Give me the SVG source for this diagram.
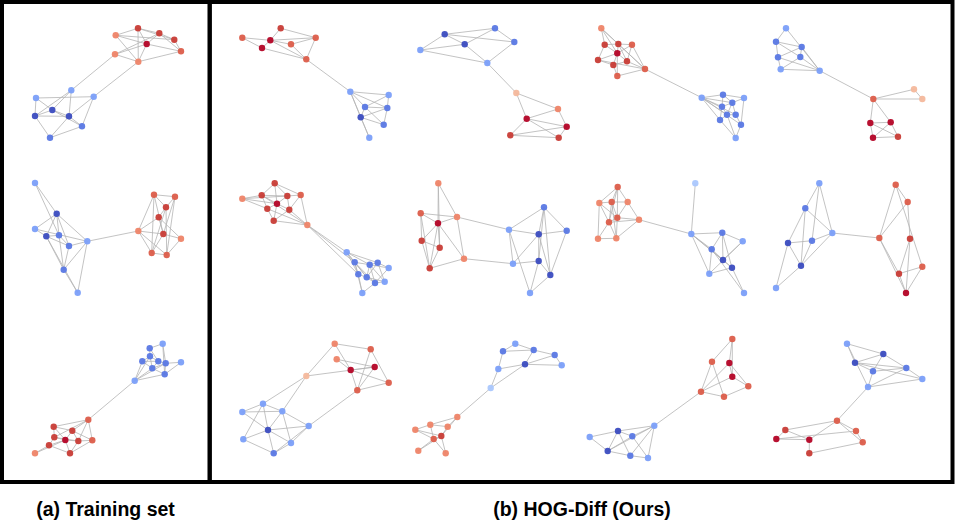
<svg xmlns="http://www.w3.org/2000/svg" width="957" height="532" viewBox="0 0 957 532">
<style>
.e{fill:none;stroke:#b4b4b4;stroke-width:0.8}
circle{r:3.2px;fill-opacity:0.95}
.D{fill:#3b4cc0}.M{fill:#5a78e4}.L{fill:#7b9ff9}.V{fill:#aac7fd}
.P{fill:#f4b89c}.O{fill:#ee8468}.R{fill:#dc5d4a}.S{fill:#c83c36}.K{fill:#b40426}
.frame{fill:none;stroke:#000;stroke-width:4}
.cap{font-family:"Liberation Sans",Arial,sans-serif;font-weight:bold;font-size:19.5px;fill:#000}
</style>
<rect width="957" height="532" fill="#fff"/>
<g id="frames">
<rect class="frame" x="2" y="2" width="207.7" height="480"/>
<rect class="frame" x="209.7" y="2" width="742.8" height="480"/>
</g>
<g id="connectors">
<path class="e" d="M115 54.3L71.3 90.3M138.3 61.7L93.7 96.7M115.7 35.3L138 28.3M138 28.3L159.3 33.3M159.3 33.3L174.3 39.7M174.3 39.7L181 51.3M115.7 35.3L146.7 44M138 28.3L146.7 44M138 28.3L138.3 61.7M159.3 33.3L146.7 44M146.7 44L181 51.3M146.7 44L115 54.3M115 54.3L138.3 61.7M138.3 61.7L181 51.3M115 54.3L159.3 33.3M138 28.3L174.3 39.7M138.3 61.7L146.7 44M159.3 33.3L181 51.3M115.7 35.3L138.3 61.7M115.7 35.3L174.3 39.7M36 98L93.7 96.7M71.3 90.3L52.3 110M71.3 90.3L69 116.3M71.3 90.3L35 116M36 98L35 116M36 98L52.3 110M52.3 110L69 116.3M35 116L69 116.3M35 116L52.3 110M35 116L50 137.7M50 137.7L69 116.3M50 137.7L82 126.3M69 116.3L82 126.3M93.7 96.7L82 126.3M93.7 96.7L69 116.3M52.3 110L82 126.3"/>
<path class="e" d="M87.3 241.3L138.3 231M35 183L56.7 213.7M35 183L59 235.3M56.7 213.7L35 229M56.7 213.7L46.3 236.3M56.7 213.7L59 235.3M56.7 213.7L69 246M56.7 213.7L87.3 241.3M35 229L46.3 236.3M35 229L87.3 241.3M46.3 236.3L59 235.3M46.3 236.3L69 246M46.3 236.3L63.7 269.7M59 235.3L69 246M59 235.3L63.7 269.7M69 246L63.7 269.7M69 246L87.3 241.3M87.3 241.3L77.7 292.7M63.7 269.7L77.7 292.7M87.3 241.3L63.7 269.7M46.3 236.3L77.7 292.7M138.3 231L154 194.7M138.3 231L158.7 217.3M138.3 231L163.3 234M138.3 231L151.7 253M138.3 231L166.7 255M154 194.7L175 196.7M154 194.7L166 207.3M154 194.7L151.7 253M175 196.7L166 207.3M175 196.7L163.3 234M166 207.3L158.7 217.3M166 207.3L166.7 255M158.7 217.3L181 238.7M158.7 217.3L163.3 234M163.3 234L181 238.7M163.3 234L151.7 253M181 238.7L166.7 255M151.7 253L166.7 255M154 194.7L163.3 234M175 196.7L166.7 255M166 207.3L151.7 253"/>
<path class="e" d="M134.7 380.7L88.3 419.7M134.7 380.7L142.3 361.3M134.7 380.7L152.3 368.3M134.7 380.7L164.7 374.3M134.7 380.7L150 356.3M134.7 380.7L165.7 363.3M149.7 348.3L162.7 343.7M149.7 348.3L150 356.3M149.7 348.3L158.3 361.3M162.7 343.7L165.7 363.3M162.7 343.7L164.7 374.3M150 356.3L142.3 361.3M150 356.3L158.3 361.3M150 356.3L152.3 368.3M142.3 361.3L158.3 361.3M142.3 361.3L152.3 368.3M158.3 361.3L165.7 363.3M158.3 361.3L152.3 368.3M165.7 363.3L181 362.3M165.7 363.3L164.7 374.3M181 362.3L164.7 374.3M152.3 368.3L164.7 374.3M152.3 368.3L165.7 363.3M88.3 419.7L53.7 426.7M88.3 419.7L72.3 430.7M88.3 419.7L54.3 437.3M88.3 419.7L78.3 441M88.3 419.7L92.3 440.3M53.7 426.7L72.3 430.7M53.7 426.7L54.3 437.3M53.7 426.7L65.3 440M72.3 430.7L65.3 440M72.3 430.7L78.3 441M54.3 437.3L65.3 440M54.3 437.3L49 445.3M65.3 440L78.3 441M65.3 440L49 445.3M65.3 440L70 453.3M78.3 441L92.3 440.3M78.3 441L70 453.3M92.3 440.3L70 453.3M49 445.3L35 453.3M49 445.3L70 453.3M35 453.3L65.3 440M54.3 437.3L78.3 441M72.3 430.7L92.3 440.3"/>
<path class="e" d="M306.3 59.3L350.3 91.7M242.3 37.7L270.3 40.3M242.3 37.7L262 48M280.7 28.3L270.3 40.3M280.7 28.3L315.7 37.7M270.3 40.3L262 48M270.3 40.3L291 44.3M270.3 40.3L306.3 59.3M262 48L306.3 59.3M291 44.3L315.7 37.7M291 44.3L306.3 59.3M315.7 37.7L306.3 59.3M270.3 40.3L315.7 37.7M350.3 91.7L388.7 95M350.3 91.7L365 107M350.3 91.7L387.3 108M350.3 91.7L360.7 117.3M350.3 91.7L369.3 137.7M388.7 95L365 107M388.7 95L387.3 108M365 107L387.3 108M365 107L360.7 117.3M365 107L383.7 124.7M387.3 108L360.7 117.3M387.3 108L383.7 124.7M360.7 117.3L383.7 124.7M360.7 117.3L369.3 137.7"/>
<path class="e" d="M487.3 63L516.3 93M444.7 34.3L495 28.3M444.7 34.3L464.7 44.3M444.7 34.3L420.3 50M444.7 34.3L514.3 42M495 28.3L464.7 44.3M495 28.3L514.3 42M464.7 44.3L487.3 63M514.3 42L487.3 63M420.3 50L464.7 44.3M420.3 50L487.3 63M516.3 93L558 109M516.3 93L526.7 118.7M558 109L526.7 118.7M558 109L566.7 126.7M526.7 118.7L566.7 126.7M526.7 118.7L510.3 135.3M526.7 118.7L558.7 137.7M566.7 126.7L510.3 135.3M566.7 126.7L558.7 137.7M510.3 135.3L558.7 137.7"/>
<path class="e" d="M645 69L701.7 97.7M601.3 28.3L604.7 44.7M601.3 28.3L618.3 44M601.3 28.3L617.3 53.3M601.3 28.3L645 69M604.7 44.7L618.3 44M604.7 44.7L617.3 53.3M604.7 44.7L598 60M618.3 44L632 44.7M618.3 44L617.3 53.3M618.3 44L627 61.3M632 44.7L617.3 53.3M632 44.7L645 69M617.3 53.3L598 60M617.3 53.3L627 61.3M617.3 53.3L613.3 65M617.3 53.3L617.3 76M598 60L613.3 65M598 60L645 69M627 61.3L645 69M627 61.3L613.3 65M613.3 65L617.3 76M617.3 76L645 69M632 44.7L627 61.3M618.3 44L645 69M701.7 97.7L723 94.7M701.7 97.7L722 106.7M701.7 97.7L732.3 102.7M701.7 97.7L727 114.7M701.7 97.7L735.7 114.7M701.7 97.7L720 120M701.7 97.7L741 124.7M723 94.7L744 98M723 94.7L732.3 102.7M723 94.7L722 106.7M744 98L732.3 102.7M744 98L741 124.7M722 106.7L732.3 102.7M722 106.7L727 114.7M722 106.7L720 120M732.3 102.7L735.7 114.7M727 114.7L735.7 114.7M727 114.7L720 120M735.7 114.7L741 124.7M720 120L735.7 138M741 124.7L735.7 138M727 114.7L735.7 138M732.3 102.7L727 114.7"/>
<path class="e" d="M819.7 70.7L873.3 99M786 28.3L776 41.7M786 28.3L819.7 70.7M776 41.7L801.7 47M776 41.7L778 57.3M776 41.7L800.3 57M801.7 47L778 57.3M801.7 47L800.3 57M801.7 47L819.7 70.7M778 57.3L780.7 69.3M778 57.3L819.7 70.7M800.3 57L780.7 69.3M800.3 57L819.7 70.7M780.7 69.3L819.7 70.7M873.3 99L914 89.3M873.3 99L922.3 99M914 89.3L922.3 99M873.3 99L870.3 123M873.3 99L890.7 122.3M870.3 123L890.7 122.3M870.3 123L873 137.7M890.7 122.3L873 137.7M890.7 122.3L898 136.7M873 137.7L898 136.7M870.3 123L898 136.7"/>
<path class="e" d="M307.3 225L346.7 252.3M307.3 225L354.7 262.3M307.3 225L358.3 274.3M242.3 198.7L261.7 195.3M242.3 198.7L277 203.7M242.3 198.7L287.3 196M242.3 198.7L267.3 208.7M274.7 183.3L261.7 195.3M274.7 183.3L287.3 196M274.7 183.3L277 203.7M274.7 183.3L300.7 195M261.7 195.3L287.3 196M261.7 195.3L277 203.7M261.7 195.3L267.3 208.7M287.3 196L300.7 195M287.3 196L277 203.7M287.3 196L289.3 209.7M300.7 195L289.3 209.7M300.7 195L307.3 225M277 203.7L267.3 208.7M277 203.7L289.3 209.7M277 203.7L273.7 220.7M267.3 208.7L273.7 220.7M267.3 208.7L307.3 225M289.3 209.7L307.3 225M273.7 220.7L307.3 225M273.7 220.7L289.3 209.7M261.7 195.3L307.3 225M346.7 252.3L354.7 262.3M346.7 252.3L369.7 264.7M346.7 252.3L377.7 262.7M346.7 252.3L358.3 274.3M346.7 252.3L366.7 277.3M354.7 262.3L369.7 264.7M354.7 262.3L358.3 274.3M354.7 262.3L366.7 277.3M354.7 262.3L375 283M369.7 264.7L377.7 262.7M369.7 264.7L388.7 268M369.7 264.7L366.7 277.3M369.7 264.7L375 283M377.7 262.7L388.7 268M377.7 262.7L384.7 281.7M377.7 262.7L366.7 277.3M388.7 268L375 283M358.3 274.3L366.7 277.3M358.3 274.3L362.3 293M366.7 277.3L375 283M366.7 277.3L384.7 281.7M375 283L384.7 281.7M375 283L362.3 293M354.7 262.3L362.3 293M369.7 264.7L384.7 281.7"/>
<path class="e" d="M457 217L509 229.7M464 258.7L513 263.7M438.3 183.3L438 223.3M438.3 183.3L457 217M438.3 183.3L439.7 247.7M420.7 213.3L438 223.3M420.7 213.3L457 217M420.7 213.3L421.7 240.7M420.7 213.3L429.7 268.3M438 223.3L457 217M438 223.3L421.7 240.7M438 223.3L439.7 247.7M438 223.3L464 258.7M457 217L464 258.7M421.7 240.7L439.7 247.7M421.7 240.7L429.7 268.3M439.7 247.7L429.7 268.3M464 258.7L429.7 268.3M438 223.3L429.7 268.3M544 207.3L509 229.7M544 207.3L566.7 230.7M544 207.3L538.7 234.3M544 207.3L538.7 261M509 229.7L538.7 234.3M509 229.7L513 263.7M509 229.7L530 293M566.7 230.7L538.7 234.3M566.7 230.7L550.3 275M538.7 234.3L513 263.7M538.7 234.3L538.7 261M538.7 234.3L550.3 275M513 263.7L538.7 261M538.7 261L550.3 275M538.7 261L530 293M550.3 275L530 293M544 207.3L550.3 275"/>
<path class="e" d="M639 219.7L691.3 234M695.3 183.3L691.3 234M617.7 187L599.3 203M617.7 187L611.7 202M617.7 187L627.7 202M617.7 187L609 222.3M617.7 187L617.3 217.7M599.3 203L611.7 202M599.3 203L609 222.3M599.3 203L617.3 217.7M599.3 203L598 238.7M611.7 202L627.7 202M611.7 202L609 222.3M611.7 202L617.3 217.7M611.7 202L616.3 238.3M627.7 202L617.3 217.7M627.7 202L639 219.7M609 222.3L617.3 217.7M609 222.3L639 219.7M609 222.3L598 238.7M609 222.3L616.3 238.3M617.3 217.7L639 219.7M617.3 217.7L616.3 238.3M598 238.7L616.3 238.3M616.3 238.3L639 219.7M691.3 234L722.3 232.7M691.3 234L711.7 249.3M691.3 234L723 260M691.3 234L732 267.7M691.3 234L709.3 273.7M722.3 232.7L742.7 241.3M722.3 232.7L711.7 249.3M722.3 232.7L723 260M722.3 232.7L732 267.7M742.7 241.3L723 260M742.7 241.3L709.3 273.7M711.7 249.3L723 260M711.7 249.3L709.3 273.7M723 260L732 267.7M732 267.7L709.3 273.7M732 267.7L744 293M711.7 249.3L744 293"/>
<path class="e" d="M832.3 233L879.3 238M819.3 183.3L805.3 208.3M819.3 183.3L832.3 233M819.3 183.3L812 240.7M805.3 208.3L832.3 233M805.3 208.3L788 243M805.3 208.3L801 265.7M832.3 233L812 240.7M832.3 233L801 265.7M788 243L812 240.7M788 243L801 265.7M788 243L776 288M812 240.7L801 265.7M801 265.7L776 288M895.7 184.7L907.7 202M895.7 184.7L879.3 238M895.7 184.7L922.3 266.7M907.7 202L879.3 238M907.7 202L910 238.7M879.3 238L899 273.7M879.3 238L906 293M910 238.7L899 273.7M910 238.7L906 293M922.3 266.7L899 273.7M922.3 266.7L906 293M899 273.7L906 293"/>
<path class="e" d="M306.3 376L263 403.7M306.3 376L282.3 411.3M357.3 390.3L308.7 426M334.7 343.7L370.7 349.3M334.7 343.7L306.3 376M334.7 343.7L350.7 370M370.7 349.3L357.3 390.3M370.7 349.3L388.7 382.7M336.7 359.3L374.7 367M306.3 376L374.7 367M350.7 370L374.7 367M350.7 370L357.3 390.3M350.7 370L388.7 382.7M374.7 367L357.3 390.3M388.7 382.7L357.3 390.3M336.7 359.3L350.7 370M263 403.7L242.3 412M263 403.7L282.3 411.3M263 403.7L268 430M263 403.7L243.3 439.3M242.3 412L282.3 411.3M282.3 411.3L268 430M282.3 411.3L291 443M268 430L308.7 426M268 430L243.3 439.3M268 430L291 443M268 430L273.7 453.3M308.7 426L291 443M308.7 426L273.7 453.3M243.3 439.3L273.7 453.3M291 443L273.7 453.3M282.3 411.3L308.7 426M242.3 412L268 430"/>
<path class="e" d="M490.7 388L457.3 417M515.3 343.7L503 351.3M515.3 343.7L533.7 350M503 351.3L533.7 350M503 351.3L498.3 369M533.7 350L554.7 355M533.7 350L525 364.3M554.7 355L525 364.3M554.7 355L561.7 365.3M525 364.3L498.3 369M525 364.3L561.7 365.3M525 364.3L490.7 388M498.3 369L490.7 388M457.3 417L430.3 424.7M457.3 417L447.7 426.7M457.3 417L441.3 436M430.3 424.7L415.3 429.7M430.3 424.7L447.7 426.7M430.3 424.7L433.7 439M447.7 426.7L441.3 436M415.3 429.7L441.3 436M415.3 429.7L433.7 439M433.7 439L441.3 436M433.7 439L418.3 450.7M441.3 436L445.7 453.3M441.3 436L418.3 450.7M433.7 439L445.7 453.3"/>
<path class="e" d="M701 391.7L654.3 425.7M732.3 339L712 361.7M732.3 339L729.3 363M732.3 339L732.3 376.7M712 361.7L701 391.7M712 361.7L724 396.7M729.3 363L732.3 376.7M729.3 363L748.3 386.3M729.3 363L701 391.7M732.3 376.7L748.3 386.3M732.3 376.7L701 391.7M748.3 386.3L724 396.7M701 391.7L724 396.7M654.3 425.7L618 431M654.3 425.7L632.3 436.3M654.3 425.7L607.7 451M654.3 425.7L630.3 455.7M654.3 425.7L648 458M618 431L632.3 436.3M618 431L589.7 437M618 431L607.7 451M618 431L630.3 455.7M632.3 436.3L607.7 451M632.3 436.3L648 458M589.7 437L607.7 451M607.7 451L630.3 455.7M630.3 455.7L648 458"/>
<path class="e" d="M868 387L837 420.7M847 343.7L883.3 354M847 343.7L855 362.7M847 343.7L868 387M883.3 354L855 362.7M883.3 354L873 371.3M883.3 354L906.3 368M855 362.7L873 371.3M855 362.7L906.3 368M873 371.3L906.3 368M873 371.3L868 387M906.3 368L922.3 379M906.3 368L868 387M922.3 379L868 387M855 362.7L922.3 379M837 420.7L785.3 430M837 420.7L856 431M837 420.7L809.3 439.7M837 420.7L862.7 442.3M785.3 430L776.3 439M785.3 430L809.3 439.7M776.3 439L809.3 439.7M776.3 439L856 431M809.3 439.7L809.3 453.3M862.7 442.3L809.3 453.3M856 431L862.7 442.3"/>
</g>
<g id="train-1">
<circle id="t1r1" class="O" cx="115.7" cy="35.3"/><circle id="t1r2" class="S" cx="138" cy="28.3"/><circle id="t1r3" class="S" cx="159.3" cy="33.3"/><circle id="t1r4" class="S" cx="174.3" cy="39.7"/><circle id="t1r5" class="K" cx="146.7" cy="44"/><circle id="t1r6" class="R" cx="181" cy="51.3"/><circle id="t1r7" class="O" cx="115" cy="54.3"/><circle id="t1r8" class="O" cx="138.3" cy="61.7"/>
<circle id="t1b1" class="L" cx="71.3" cy="90.3"/><circle id="t1b2" class="L" cx="93.7" cy="96.7"/><circle id="t1b3" class="L" cx="36" cy="98"/><circle id="t1b4" class="D" cx="52.3" cy="110"/><circle id="t1b5" class="D" cx="35" cy="116"/><circle id="t1b6" class="D" cx="69" cy="116.3"/><circle id="t1b7" class="M" cx="82" cy="126.3"/><circle id="t1b8" class="M" cx="50" cy="137.7"/>
</g>
<g id="train-2">
<circle id="t2a1" class="L" cx="35" cy="183"/><circle id="t2a2" class="D" cx="56.7" cy="213.7"/><circle id="t2a3" class="L" cx="35" cy="229"/><circle id="t2a4" class="D" cx="46.3" cy="236.3"/><circle id="t2a5" class="M" cx="59" cy="235.3"/><circle id="t2a6" class="M" cx="69" cy="246"/><circle id="t2a7" class="L" cx="87.3" cy="241.3"/><circle id="t2a8" class="M" cx="63.7" cy="269.7"/><circle id="t2a9" class="L" cx="77.7" cy="292.7"/>
<circle id="t2c1" class="O" cx="138.3" cy="231"/><circle id="t2c2" class="R" cx="154" cy="194.7"/><circle id="t2c3" class="R" cx="175" cy="196.7"/><circle id="t2c4" class="S" cx="166" cy="207.3"/><circle id="t2c5" class="S" cx="158.7" cy="217.3"/><circle id="t2c6" class="S" cx="163.3" cy="234"/><circle id="t2c7" class="O" cx="181" cy="238.7"/><circle id="t2c8" class="R" cx="151.7" cy="253"/><circle id="t2c9" class="R" cx="166.7" cy="255"/>
</g>
<g id="train-3">
<circle id="t3d1" class="M" cx="149.7" cy="348.3"/><circle id="t3d2" class="L" cx="162.7" cy="343.7"/><circle id="t3d3" class="M" cx="150" cy="356.3"/><circle id="t3d4" class="M" cx="142.3" cy="361.3"/><circle id="t3d5" class="M" cx="158.3" cy="361.3"/><circle id="t3d6" class="M" cx="165.7" cy="363.3"/><circle id="t3d7" class="M" cx="152.3" cy="368.3"/><circle id="t3d8" class="L" cx="181" cy="362.3"/><circle id="t3d9" class="M" cx="164.7" cy="374.3"/><circle id="t3d10" class="L" cx="134.7" cy="380.7"/>
<circle id="t3e1" class="R" cx="88.3" cy="419.7"/><circle id="t3e2" class="S" cx="53.7" cy="426.7"/><circle id="t3e3" class="S" cx="72.3" cy="430.7"/><circle id="t3e4" class="S" cx="54.3" cy="437.3"/><circle id="t3e5" class="K" cx="65.3" cy="440"/><circle id="t3e6" class="S" cx="78.3" cy="441"/><circle id="t3e7" class="R" cx="92.3" cy="440.3"/><circle id="t3e8" class="S" cx="49" cy="445.3"/><circle id="t3e9" class="O" cx="35" cy="453.3"/><circle id="t3e10" class="S" cx="70" cy="453.3"/>
</g>
<g id="gen-1-1">
<circle id="g11f1" class="R" cx="242.3" cy="37.7"/><circle id="g11f2" class="S" cx="280.7" cy="28.3"/><circle id="g11f3" class="K" cx="270.3" cy="40.3"/><circle id="g11f4" class="K" cx="262" cy="48"/><circle id="g11f5" class="R" cx="291" cy="44.3"/><circle id="g11f6" class="R" cx="315.7" cy="37.7"/><circle id="g11f7" class="R" cx="306.3" cy="59.3"/>
<circle id="g11g1" class="L" cx="350.3" cy="91.7"/><circle id="g11g2" class="L" cx="388.7" cy="95"/><circle id="g11g3" class="M" cx="365" cy="107"/><circle id="g11g4" class="M" cx="387.3" cy="108"/><circle id="g11g5" class="D" cx="360.7" cy="117.3"/><circle id="g11g6" class="M" cx="383.7" cy="124.7"/><circle id="g11g7" class="L" cx="369.3" cy="137.7"/>
</g>
<g id="gen-1-2">
<circle id="g12h1" class="D" cx="444.7" cy="34.3"/><circle id="g12h2" class="M" cx="495" cy="28.3"/><circle id="g12h3" class="D" cx="464.7" cy="44.3"/><circle id="g12h4" class="M" cx="514.3" cy="42"/><circle id="g12h5" class="L" cx="420.3" cy="50"/><circle id="g12h6" class="L" cx="487.3" cy="63"/>
<circle id="g12i1" class="P" cx="516.3" cy="93"/><circle id="g12i2" class="O" cx="558" cy="109"/><circle id="g12i3" class="K" cx="526.7" cy="118.7"/><circle id="g12i4" class="K" cx="566.7" cy="126.7"/><circle id="g12i5" class="S" cx="510.3" cy="135.3"/><circle id="g12i6" class="S" cx="558.7" cy="137.7"/>
</g>
<g id="gen-1-3">
<circle id="g13j1" class="O" cx="601.3" cy="28.3"/><circle id="g13j2" class="S" cx="604.7" cy="44.7"/><circle id="g13j3" class="S" cx="618.3" cy="44"/><circle id="g13j4" class="R" cx="632" cy="44.7"/><circle id="g13j5" class="K" cx="617.3" cy="53.3"/><circle id="g13j6" class="S" cx="598" cy="60"/><circle id="g13j7" class="S" cx="627" cy="61.3"/><circle id="g13j8" class="S" cx="613.3" cy="65"/><circle id="g13j9" class="R" cx="645" cy="69"/><circle id="g13j10" class="R" cx="617.3" cy="76"/>
<circle id="g13k1" class="L" cx="701.7" cy="97.7"/><circle id="g13k2" class="M" cx="723" cy="94.7"/><circle id="g13k3" class="L" cx="744" cy="98"/><circle id="g13k4" class="M" cx="722" cy="106.7"/><circle id="g13k5" class="M" cx="732.3" cy="102.7"/><circle id="g13k6" class="M" cx="727" cy="114.7"/><circle id="g13k7" class="M" cx="735.7" cy="114.7"/><circle id="g13k8" class="M" cx="720" cy="120"/><circle id="g13k9" class="M" cx="741" cy="124.7"/><circle id="g13k10" class="L" cx="735.7" cy="138"/>
</g>
<g id="gen-1-4">
<circle id="g14l1" class="L" cx="786" cy="28.3"/><circle id="g14l2" class="M" cx="776" cy="41.7"/><circle id="g14l3" class="M" cx="801.7" cy="47"/><circle id="g14l4" class="M" cx="778" cy="57.3"/><circle id="g14l5" class="M" cx="800.3" cy="57"/><circle id="g14l6" class="L" cx="780.7" cy="69.3"/><circle id="g14l7" class="L" cx="819.7" cy="70.7"/>
<circle id="g14m1" class="R" cx="873.3" cy="99"/><circle id="g14m2" class="P" cx="914" cy="89.3"/><circle id="g14m3" class="P" cx="922.3" cy="99"/><circle id="g14m4" class="K" cx="870.3" cy="123"/><circle id="g14m5" class="K" cx="890.7" cy="122.3"/><circle id="g14m6" class="K" cx="873" cy="137.7"/><circle id="g14m7" class="S" cx="898" cy="136.7"/>
</g>
<g id="gen-2-1">
<circle id="g21n1" class="O" cx="242.3" cy="198.7"/><circle id="g21n2" class="S" cx="274.7" cy="183.3"/><circle id="g21n3" class="S" cx="261.7" cy="195.3"/><circle id="g21n4" class="S" cx="287.3" cy="196"/><circle id="g21n5" class="R" cx="300.7" cy="195"/><circle id="g21n6" class="K" cx="277" cy="203.7"/><circle id="g21n7" class="S" cx="267.3" cy="208.7"/><circle id="g21n8" class="S" cx="289.3" cy="209.7"/><circle id="g21n9" class="S" cx="273.7" cy="220.7"/><circle id="g21n10" class="O" cx="307.3" cy="225"/>
<circle id="g21o1" class="L" cx="346.7" cy="252.3"/><circle id="g21o2" class="M" cx="354.7" cy="262.3"/><circle id="g21o3" class="M" cx="369.7" cy="264.7"/><circle id="g21o4" class="M" cx="377.7" cy="262.7"/><circle id="g21o5" class="L" cx="388.7" cy="268"/><circle id="g21o6" class="M" cx="358.3" cy="274.3"/><circle id="g21o7" class="M" cx="366.7" cy="277.3"/><circle id="g21o8" class="M" cx="375" cy="283"/><circle id="g21o9" class="L" cx="384.7" cy="281.7"/><circle id="g21o10" class="L" cx="362.3" cy="293"/>
</g>
<g id="gen-2-2">
<circle id="g22p1" class="O" cx="438.3" cy="183.3"/><circle id="g22p2" class="R" cx="420.7" cy="213.3"/><circle id="g22p3" class="K" cx="438" cy="223.3"/><circle id="g22p4" class="O" cx="457" cy="217"/><circle id="g22p5" class="S" cx="421.7" cy="240.7"/><circle id="g22p6" class="S" cx="439.7" cy="247.7"/><circle id="g22p7" class="O" cx="464" cy="258.7"/><circle id="g22p8" class="S" cx="429.7" cy="268.3"/>
<circle id="g22q1" class="M" cx="544" cy="207.3"/><circle id="g22q2" class="L" cx="509" cy="229.7"/><circle id="g22q3" class="M" cx="566.7" cy="230.7"/><circle id="g22q4" class="D" cx="538.7" cy="234.3"/><circle id="g22q5" class="L" cx="513" cy="263.7"/><circle id="g22q6" class="D" cx="538.7" cy="261"/><circle id="g22q7" class="D" cx="550.3" cy="275"/><circle id="g22q8" class="L" cx="530" cy="293"/>
</g>
<g id="gen-2-3">
<circle id="g23s1" class="R" cx="617.7" cy="187"/><circle id="g23s2" class="O" cx="599.3" cy="203"/><circle id="g23s3" class="R" cx="611.7" cy="202"/><circle id="g23s4" class="O" cx="627.7" cy="202"/><circle id="g23s5" class="R" cx="609" cy="222.3"/><circle id="g23s6" class="R" cx="617.3" cy="217.7"/><circle id="g23s7" class="O" cx="639" cy="219.7"/><circle id="g23s8" class="O" cx="598" cy="238.7"/><circle id="g23s9" class="O" cx="616.3" cy="238.3"/>
<circle id="g23t1" class="V" cx="695.3" cy="183.3"/><circle id="g23t2" class="L" cx="691.3" cy="234"/><circle id="g23t3" class="M" cx="722.3" cy="232.7"/><circle id="g23t4" class="L" cx="742.7" cy="241.3"/><circle id="g23t5" class="M" cx="711.7" cy="249.3"/><circle id="g23t6" class="D" cx="723" cy="260"/><circle id="g23t7" class="D" cx="732" cy="267.7"/><circle id="g23t8" class="L" cx="709.3" cy="273.7"/><circle id="g23t9" class="L" cx="744" cy="293"/>
</g>
<g id="gen-2-4">
<circle id="g24u1" class="L" cx="819.3" cy="183.3"/><circle id="g24u2" class="M" cx="805.3" cy="208.3"/><circle id="g24u3" class="L" cx="832.3" cy="233"/><circle id="g24u4" class="D" cx="788" cy="243"/><circle id="g24u5" class="M" cx="812" cy="240.7"/><circle id="g24u6" class="D" cx="801" cy="265.7"/><circle id="g24u7" class="L" cx="776" cy="288"/>
<circle id="g24v1" class="R" cx="895.7" cy="184.7"/><circle id="g24v2" class="R" cx="907.7" cy="202"/><circle id="g24v3" class="R" cx="879.3" cy="238"/><circle id="g24v4" class="S" cx="910" cy="238.7"/><circle id="g24v5" class="R" cx="922.3" cy="266.7"/><circle id="g24v6" class="S" cx="899" cy="273.7"/><circle id="g24v7" class="K" cx="906" cy="293"/>
</g>
<g id="gen-3-1">
<circle id="g31w1" class="O" cx="334.7" cy="343.7"/><circle id="g31w2" class="R" cx="370.7" cy="349.3"/><circle id="g31w3" class="O" cx="336.7" cy="359.3"/><circle id="g31w4" class="K" cx="350.7" cy="370"/><circle id="g31w5" class="K" cx="374.7" cy="367"/><circle id="g31w6" class="R" cx="388.7" cy="382.7"/><circle id="g31w7" class="R" cx="357.3" cy="390.3"/><circle id="g31w8" class="P" cx="306.3" cy="376"/>
<circle id="g31x1" class="L" cx="263" cy="403.7"/><circle id="g31x2" class="L" cx="242.3" cy="412"/><circle id="g31x3" class="L" cx="282.3" cy="411.3"/><circle id="g31x4" class="D" cx="268" cy="430"/><circle id="g31x5" class="L" cx="308.7" cy="426"/><circle id="g31x6" class="L" cx="243.3" cy="439.3"/><circle id="g31x7" class="L" cx="291" cy="443"/><circle id="g31x8" class="M" cx="273.7" cy="453.3"/>
</g>
<g id="gen-3-2">
<circle id="g32y1" class="L" cx="515.3" cy="343.7"/><circle id="g32y2" class="M" cx="503" cy="351.3"/><circle id="g32y3" class="M" cx="533.7" cy="350"/><circle id="g32y4" class="M" cx="554.7" cy="355"/><circle id="g32y5" class="D" cx="525" cy="364.3"/><circle id="g32y6" class="L" cx="498.3" cy="369"/><circle id="g32y7" class="L" cx="561.7" cy="365.3"/><circle id="g32y8" class="V" cx="490.7" cy="388"/>
<circle id="g32z1" class="O" cx="457.3" cy="417"/><circle id="g32z2" class="O" cx="430.3" cy="424.7"/><circle id="g32z3" class="O" cx="447.7" cy="426.7"/><circle id="g32z4" class="O" cx="415.3" cy="429.7"/><circle id="g32z5" class="R" cx="433.7" cy="439"/><circle id="g32z6" class="S" cx="441.3" cy="436"/><circle id="g32z7" class="O" cx="418.3" cy="450.7"/><circle id="g32z8" class="O" cx="445.7" cy="453.3"/>
</g>
<g id="gen-3-3">
<circle id="g33a1" class="R" cx="732.3" cy="339"/><circle id="g33a2" class="R" cx="712" cy="361.7"/><circle id="g33a3" class="K" cx="729.3" cy="363"/><circle id="g33a4" class="K" cx="732.3" cy="376.7"/><circle id="g33a5" class="R" cx="748.3" cy="386.3"/><circle id="g33a6" class="R" cx="701" cy="391.7"/><circle id="g33a7" class="R" cx="724" cy="396.7"/>
<circle id="g33b1" class="L" cx="654.3" cy="425.7"/><circle id="g33b2" class="D" cx="618" cy="431"/><circle id="g33b3" class="M" cx="632.3" cy="436.3"/><circle id="g33b4" class="L" cx="589.7" cy="437"/><circle id="g33b5" class="D" cx="607.7" cy="451"/><circle id="g33b6" class="M" cx="630.3" cy="455.7"/><circle id="g33b7" class="L" cx="648" cy="458"/>
</g>
<g id="gen-3-4">
<circle id="g34c1" class="L" cx="847" cy="343.7"/><circle id="g34c2" class="D" cx="883.3" cy="354"/><circle id="g34c3" class="D" cx="855" cy="362.7"/><circle id="g34c4" class="M" cx="873" cy="371.3"/><circle id="g34c5" class="M" cx="906.3" cy="368"/><circle id="g34c6" class="L" cx="922.3" cy="379"/><circle id="g34c7" class="L" cx="868" cy="387"/>
<circle id="g34d1" class="R" cx="837" cy="420.7"/><circle id="g34d2" class="S" cx="785.3" cy="430"/><circle id="g34d3" class="R" cx="856" cy="431"/><circle id="g34d4" class="K" cx="776.3" cy="439"/><circle id="g34d5" class="K" cx="809.3" cy="439.7"/><circle id="g34d6" class="R" cx="862.7" cy="442.3"/><circle id="g34d7" class="S" cx="809.3" cy="453.3"/>
</g>
<g id="captions">
<text class="cap" x="105.5" y="516" text-anchor="middle">(a) Training set</text>
<text class="cap" x="582" y="516" text-anchor="middle">(b) HOG-Diff (Ours)</text>
</g>
</svg>
